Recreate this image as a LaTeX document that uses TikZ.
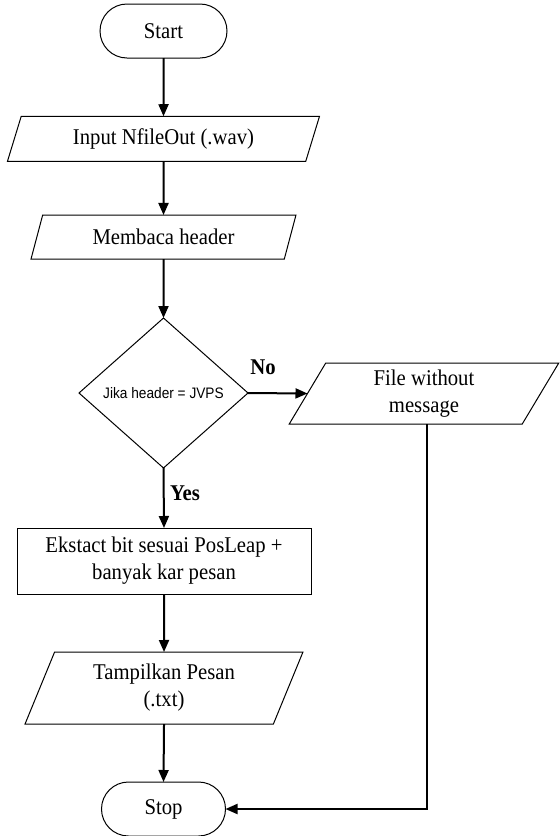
\documentclass[tikz,border=0pt]{standalone}
\usepackage{fontspec}
\setmainfont[FakeStretch=0.92]{Liberation Serif}
\newfontfamily\diasans[FakeStretch=0.9]{Liberation Sans}
\usetikzlibrary{shapes.geometric,arrows.meta}
\begin{document}
\begin{tikzpicture}[x=1pt,y=-1pt,
  font=\fontsize{22.5pt}{27pt}\selectfont,
  conn/.style={line width=2pt,-{Triangle[length=12pt,width=10pt]}},
  term/.style={draw,line width=1pt,rounded corners=27pt,minimum width=127pt,minimum height=54pt,inner sep=0pt,outer sep=0pt},
  io/.style={trapezium,draw,line width=1pt,trapezium stretches=true,inner sep=0pt,outer sep=0pt,align=center},
  procbox/.style={rectangle,draw,line width=1pt,minimum width=294pt,minimum height=66pt,inner sep=0pt,outer sep=0pt,align=center},
  dia/.style={diamond,draw,line width=1pt,minimum width=169pt,minimum height=150pt,inner sep=0pt,outer sep=0pt},
  lbl/.style={font=\fontsize{22.5pt}{27pt}\selectfont\bfseries,inner sep=0pt}]
\useasboundingbox (0,0) rectangle (560,836);
\node[term] (start) at (163.5,31) {Start};
\node[io,minimum width=313pt,minimum height=45pt,trapezium left angle=67,trapezium right angle=113] (input) at (163.5,138.75) {Input NfileOut (.wav)};
\node[io,minimum width=265pt,minimum height=44pt,trapezium left angle=66.6,trapezium right angle=113.4] (read) at (163.5,237) {Membaca header};
\node[dia] (dec) at (163.5,393) {\diasans\fontsize{15.2pt}{18pt}\selectfont Jika header = JVPS};
\node[io,minimum width=270pt,minimum height=61pt,trapezium left angle=68.5,trapezium right angle=111.5] (file) at (424,393.5) {File without\\message};
\node[procbox] (ext) at (164,561) {Ekstact bit sesuai PosLeap +\\banyak kar pesan};
\node[io,minimum width=278pt,minimum height=72pt,trapezium left angle=68,trapezium right angle=112] (show) at (164,688) {Tampilkan Pesan\\(.txt)};
\node[term,minimum width=124pt] (stop) at (163.5,809) {Stop};
\node[lbl] (no) at (263,367) {No};
\node[lbl] (yes) at (185,493) {Yes};
\draw[conn] (start.south) -- (input.north);
\draw[conn] (input.south) -- (read.north);
\draw[conn] (read.south) -- (dec.north);
\draw[conn] (dec.east) -- (file.left side);
\draw[conn] (dec.south) -- (ext.north);
\draw[conn] (ext.south) -- (show.north);
\draw[conn] (show.south) -- (stop.north);
\draw[conn] ([xshift=2.5pt]file.south) |- (stop.east);
\end{tikzpicture}
\end{document}
